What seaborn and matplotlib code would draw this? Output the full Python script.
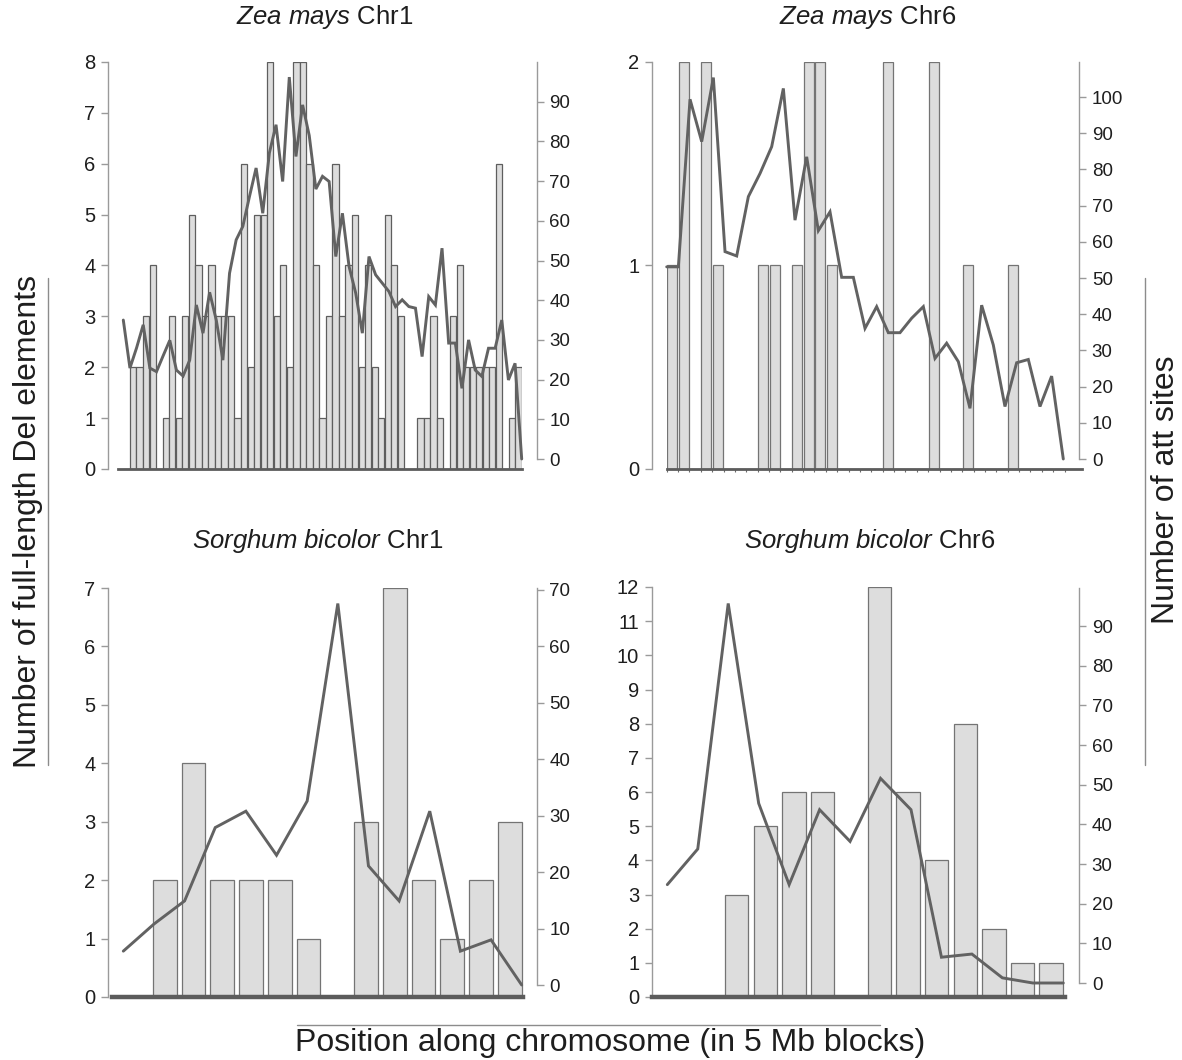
import numpy as np
import pandas as pd
import matplotlib
matplotlib.use("Agg")
import matplotlib.pyplot as plt
import seaborn as sns
from matplotlib.lines import Line2D

sns.set_theme(style="ticks")
plt.rcParams["font.family"] = ["Liberation Sans", "DejaVu Sans"]
plt.rcParams["mathtext.fontset"] = "custom"
plt.rcParams["mathtext.rm"] = "Liberation Sans"
plt.rcParams["mathtext.it"] = "Liberation Sans:italic"

# Full-length Del elements per 5 Mb block (bars, left axis)
zm1_del = [0, 2, 2, 3, 4, 0, 1, 3, 1, 3, 5, 4, 3, 4, 3, 3, 3, 1, 6, 2,
           5, 5, 8, 3, 4, 2, 8, 8, 6, 4, 1, 3, 6, 3, 4, 5, 2, 4, 2, 1,
           5, 4, 3, 0, 0, 1, 1, 3, 1, 0, 3, 4, 2, 2, 2, 2, 2, 6, 0, 1, 2]
zm6_del = [1, 2, 0, 2, 1, 0, 0, 0, 1, 1, 0, 1, 2, 2, 1, 0, 0, 0, 0, 2,
           0, 0, 0, 2, 0, 0, 1, 0, 0, 0, 1, 0, 0, 0, 0]
sb1_del = [0, 2, 4, 2, 2, 2, 1, 0, 3, 7, 2, 1, 2, 3]
sb6_del = [0, 0, 3, 5, 6, 6, 0, 12, 6, 4, 8, 2, 1, 1]

# att sites per 5 Mb block (line, right axis)
zm1_att = [35.0, 22.9, 28.0, 33.8, 22.9, 22.0, 26.0, 29.9, 22.4, 20.9,
           24.9, 38.8, 31.7, 42.0, 35.0, 24.9, 46.8, 55.2, 58.6, 66.1,
           73.3, 61.9, 77.1, 84.2, 69.9, 96.2, 76.2, 89.2, 81.5, 68.0,
           71.2, 69.9, 51.0, 61.9, 48.5, 41.8, 31.7, 51.0, 46.4, 44.3,
           42.2, 38.4, 40.1, 38.4, 38.0, 25.8, 40.9, 38.8, 53.1, 29.2,
           29.2, 17.8, 30.0, 22.4, 20.8, 27.9, 27.9, 35.0, 19.9, 24.1, 0.0]
zm6_att = [53.1, 53.1, 99.4, 87.7, 105.4, 57.3, 56.1, 72.5, 78.9, 86.3,
           102.4, 66.0, 83.5, 63.1, 68.3, 50.2, 50.2, 36.1, 42.1, 34.9,
           34.9, 38.9, 42.1, 27.8, 32.0, 26.9, 14.0, 42.5, 31.5, 14.5,
           26.6, 27.5, 14.5, 22.9, 0.0]
sb1_att = [6.0, 10.8, 14.9, 27.9, 30.8, 23.0, 32.6, 67.6, 21.1, 14.9,
           30.8, 6.0, 8.0, 0.0]
sb6_att = [24.8, 33.8, 95.7, 45.3, 24.8, 43.7, 35.7, 51.6, 43.7, 6.5,
           7.3, 1.3, 0.0, 0.0]

# Panel titles
titles = [(r"$\it{Zea\ mays}$ Chr1"), (r"$\it{Zea\ mays}$ Chr6"),
          (r"$\it{Sorghum\ bicolor}$ Chr1"), (r"$\it{Sorghum\ bicolor}$ Chr6")]

W, H = 1182, 1060
fig = plt.figure(figsize=(W / 100, H / 100), dpi=100)
PT = 0.72  # points per pixel at 100 dpi

BAR_FILL = "#dddddd"
BAR_EDGE = "#747474"
LINE_C = "#626262"
SPINE_C = "#9a9a9a"
TEXT_C = "#1e1e1e"


def rect(l, t, r, b):
    return [l / W, 1 - b / H, (r - l) / W, (b - t) / H]


def panel(bars, att, bar_box, line_box, lspine_x, rspine_x, lmax, lticks,
          rmax, rticks, bw, base_lw, base_ext=None, slot_ticks=False,
          edge=BAR_EDGE):
    n = len(bars)
    ax = fig.add_axes(rect(*bar_box))
    df = pd.DataFrame({"block": np.arange(n), "count": bars})
    sns.barplot(data=df, x="block", y="count", color=BAR_FILL,
                saturation=1, width=bw, edgecolor=edge, linewidth=0.9,
                ax=ax)
    ax.set_xlim(-0.5, n - 0.5)
    ax.set_ylim(0, lmax)
    ax.set_xlabel("")
    ax.set_ylabel("")
    ax.set_yticks(lticks)
    ax.set_yticklabels([str(t) for t in lticks])
    ax.spines["top"].set_visible(False)
    ax.spines["right"].set_visible(False)
    ax.spines["left"].set_position(("outward", (bar_box[0] - lspine_x) * PT))
    ax.spines["left"].set_color(SPINE_C)
    ax.spines["left"].set_linewidth(1.0)
    ax.spines["bottom"].set_color("#5c5c5c")
    ax.spines["bottom"].set_linewidth(base_lw)
    ax.tick_params(axis="y", left=True, length=5, width=1.0, color=SPINE_C,
                   labelsize=14.5, pad=4, labelcolor=TEXT_C)
    if slot_ticks:
        ax.set_xticks(np.arange(n + 1) - 0.5)
        ax.set_xticklabels([])
        ax.tick_params(axis="x", bottom=True, length=2.5, width=0.8,
                       color="#6a6a6a", direction="out")
    else:
        ax.set_xticks([])
    if base_ext is not None:
        per_px = n / (bar_box[2] - bar_box[0])
        lo = -0.5 - (bar_box[0] - base_ext[0]) * per_px
        hi = n - 0.5 + (base_ext[1] - bar_box[2]) * per_px
        ax.spines["bottom"].set_bounds(lo, hi)

    lax = fig.add_axes(rect(*line_box))
    lax.patch.set_alpha(0)
    sns.lineplot(x=np.arange(n), y=att, color=LINE_C, linewidth=2.1, ax=lax)
    for ln in lax.lines:
        ln.set_clip_on(False)
        ln.set_solid_joinstyle("miter")
    lax.set_xlim(0, n - 1)
    lax.set_ylim(0, rmax)
    lax.set_xlabel("")
    lax.set_ylabel("")
    for s in ["left", "top", "bottom"]:
        lax.spines[s].set_visible(False)
    lax.spines["right"].set_position(("outward", (rspine_x - line_box[2]) * PT))
    lax.spines["right"].set_color(SPINE_C)
    lax.spines["right"].set_linewidth(1.0)
    lax.yaxis.tick_right()
    lax.set_yticks(rticks)
    lax.set_yticklabels([str(t) for t in rticks])
    lax.set_xticks([])
    lax.tick_params(axis="y", right=True, left=False, length=5, width=1.0,
                    color=SPINE_C, labelsize=13.5, pad=4, labelcolor=TEXT_C)
    return ax, lax


panel(zm1_del, zm1_att, (123.3, 62, 521.7, 469), (123.3, 62, 521.7, 459),
      108, 537, 8, list(range(0, 9)), 100, list(range(0, 91, 10)),
      bw=0.96, base_lw=2.0, base_ext=(118, 521.7), edge="#5e5e5e")
panel(zm6_del, zm6_att, (666.7, 62, 1064.6, 469), (666.7, 62, 1063.3, 459),
      651.7, 1079.3, 2, [0, 1, 2], 109.7, list(range(0, 101, 10)),
      bw=0.88, base_lw=2.0, base_ext=(666.7, 1081.7), slot_ticks=True)
panel(sb1_del, sb1_att, (121.6, 588, 524.1, 997), (123.3, 588, 521.7, 985),
      108, 536.7, 7, list(range(0, 8)), 70.35, list(range(0, 71, 10)),
      bw=0.83, base_lw=3.2, base_ext=(112, 523))
panel(sb6_del, sb6_att, (665.3, 587, 1065.3, 997), (667.3, 588, 1063.3, 983),
      651.7, 1079.3, 12, list(range(0, 13)), 99.6, list(range(0, 91, 10)),
      bw=0.82, base_lw=3.2, base_ext=(651.7, 1065))

# Panel titles
title_pos = [(325, 17), (868, 17), (318, 541), (870, 541)]
for t, (x, y) in zip(titles, title_pos):
    fig.text(x / W, 1 - y / H, t, ha="center", va="center", fontsize=18.5,
             color=TEXT_C)

# Shared axis labels with their rules
fig.text(28 / W, 1 - 522 / H, "Number of full-length Del elements",
         rotation=90, ha="center", va="center", fontsize=23, color=TEXT_C)
fig.text(1166 / W, 1 - 490 / H, "Number of att sites",
         rotation=90, ha="center", va="center", fontsize=23, color=TEXT_C)
fig.text(610 / W, 1 - 1043 / H, "Position along chromosome (in 5 Mb blocks)",
         ha="center", va="center", fontsize=23, color=TEXT_C)

rule_kw = dict(color="#8c8c8c", linewidth=1.0, transform=fig.transFigure)
fig.add_artist(Line2D([48 / W, 48 / W], [1 - 278 / H, 1 - 765 / H], **rule_kw))
fig.add_artist(Line2D([1145 / W, 1145 / W], [1 - 278 / H, 1 - 765 / H], **rule_kw))
fig.add_artist(Line2D([297 / W, 880 / W], [1 - 1025 / H, 1 - 1025 / H], **rule_kw))

fig.savefig("out.png", dpi=100)
